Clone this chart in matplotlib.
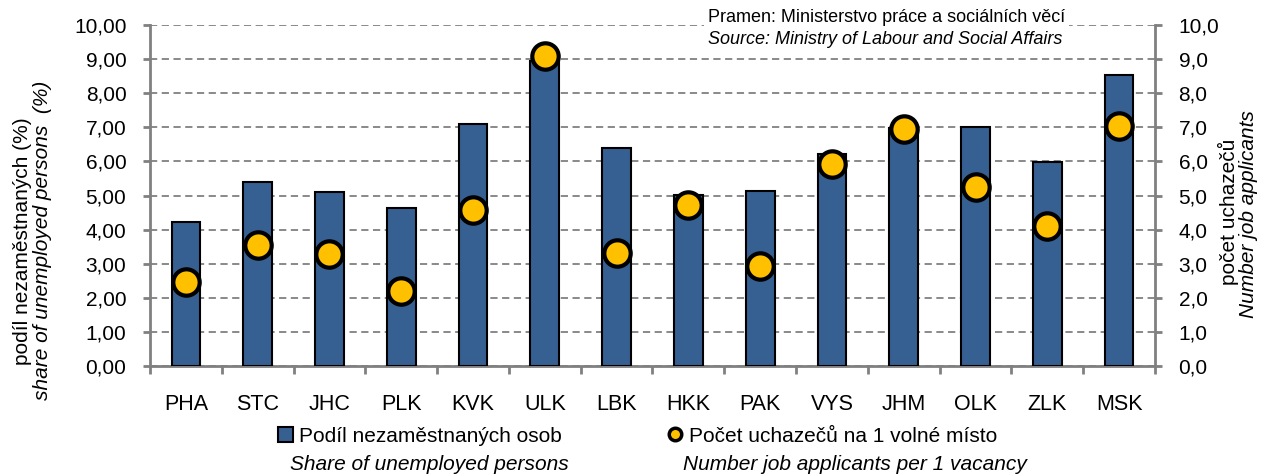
import matplotlib.pyplot as plt
import matplotlib as mpl
import numpy as np
from matplotlib.ticker import FuncFormatter, FixedLocator
from matplotlib.lines import Line2D
from matplotlib.patches import Patch

# --- data
regions = ['PHA', 'STC', 'JHC', 'PLK', 'KVK', 'ULK', 'LBK',
           'HKK', 'PAK', 'VYS', 'JHM', 'OLK', 'ZLK', 'MSK']
share_unemployed = [4.22, 5.39, 5.10, 4.63, 7.10, 8.93, 6.39,
                    5.01, 5.13, 6.22, 6.98, 7.01, 5.98, 8.53]
applicants_per_vacancy = [2.47, 3.55, 3.28, 2.20, 4.57, 9.09, 3.31,
                          4.72, 2.93, 5.92, 6.94, 5.26, 4.12, 7.04]

bar_color = '#376092'
dot_color = '#FFC000'
grey = '#808080'
fs = 15

plt.rcParams['font.family'] = ['Liberation Sans', 'DejaVu Sans']
mpl.rcParams.update({'font.size': fs})

W, H = 1262, 476
fig = plt.figure(figsize=(W / 100, H / 100), dpi=100)
ax = fig.add_axes([150 / W, 1 - 366 / H, 1005 / W, 341 / H])
ax2 = ax.twinx()

x = np.arange(len(regions))

# --- bars (left axis)
ax.bar(x, share_unemployed, width=0.4, color=bar_color, edgecolor='black',
       linewidth=1.5, zorder=3)

# --- dots (right axis)
ax2.plot(x, applicants_per_vacancy, ls='none', marker='o', ms=19,
         mfc=dot_color, mec='black', mew=3, zorder=4, clip_on=False)

# --- axes
for a in (ax, ax2):
    a.set_ylim(0, 10)
    a.set_xlim(-0.5, len(regions) - 0.5)
    for s in a.spines.values():
        s.set_visible(False)

ax.spines['left'].set_visible(True)
ax.spines['bottom'].set_visible(True)
ax2.spines['right'].set_visible(True)
for s in (ax.spines['left'], ax.spines['bottom'], ax2.spines['right']):
    s.set_color(grey)
    s.set_linewidth(2)

ax.set_yticks(np.arange(0, 11, 1))
ax2.set_yticks(np.arange(0, 11, 1))
ax.yaxis.set_major_formatter(FuncFormatter(lambda v, p: f'{v:.2f}'.replace('.', ',')))
ax2.yaxis.set_major_formatter(FuncFormatter(lambda v, p: f'{v:.1f}'.replace('.', ',')))
ax.tick_params(axis='y', direction='out', length=5, width=2, color=grey, pad=12,
               labelsize=fs)
ax2.tick_params(axis='y', direction='out', length=5, width=2, color=grey, pad=12,
                labelsize=fs)

ax.set_xticks(x)
ax.set_xticklabels(regions, fontsize=15.5)
ax.xaxis.set_minor_locator(FixedLocator(np.arange(-0.5, len(regions), 1)))
ax.tick_params(axis='x', which='major', length=0, pad=20)
ax.tick_params(axis='x', which='minor', direction='out', length=6, width=2, color=grey)

ax.grid(axis='y', color=grey, ls=(0, (4, 2.5)), lw=1.3, zorder=0)
ax.set_axisbelow(True)

# --- axis titles
fig.text(23 / W, 1 - 241 / H, 'podíl nezaměstnaných (%)', rotation=90, ha='center',
         va='center', fontsize=fs)
fig.text(43 / W, 1 - 240 / H, 'share of unemployed persons  (%)', rotation=90,
         ha='center', va='center', fontsize=fs, style='italic')
fig.text(1228 / W, 1 - 212 / H, 'počet uchazečů', rotation=90, ha='center',
         va='center', fontsize=fs)
fig.text(1249 / W, 1 - 214 / H, 'Number job applicants', rotation=90, ha='center',
         va='center', fontsize=fs, style='italic')

# --- source note
fig.text(708 / W, 1 - 18 / H, 'Pramen: Ministerstvo práce a sociálních věcí',
         ha='left', va='center', fontsize=13, zorder=5,
         bbox=dict(facecolor='white', edgecolor='none', pad=3))
fig.text(708 / W, 1 - 40 / H, 'Source: Ministry of Labour and Social Affairs',
         ha='left', va='center', fontsize=13, style='italic', zorder=6)

# --- legend
h_bar = Patch(facecolor=bar_color, edgecolor='black', linewidth=1.5)
h_dot = Line2D([], [], ls='none', marker='o', ms=9, mfc=dot_color, mec='black', mew=2.5)
fig.legend([h_bar], ['Podíl nezaměstnaných osob'], loc='center left',
           bbox_to_anchor=(278 / W, 1 - 436 / H), frameon=False, fontsize=fs,
           handlelength=0.7, handletextpad=0.3, borderaxespad=0, borderpad=0)
fig.legend([h_dot], ['Počet uchazečů na 1 volné místo'], loc='center left',
           bbox_to_anchor=(668 / W, 1 - 436 / H), frameon=False, fontsize=fs,
           handlelength=0.7, handletextpad=0.3, borderaxespad=0, borderpad=0)
fig.text(290 / W, 1 - 465 / H, 'Share of unemployed persons', ha='left', va='center',
         fontsize=fs, style='italic')
fig.text(683 / W, 1 - 465 / H, 'Number job applicants per 1 vacancy', ha='left',
         va='center', fontsize=fs, style='italic')

fig.savefig('out.png', dpi=100)
